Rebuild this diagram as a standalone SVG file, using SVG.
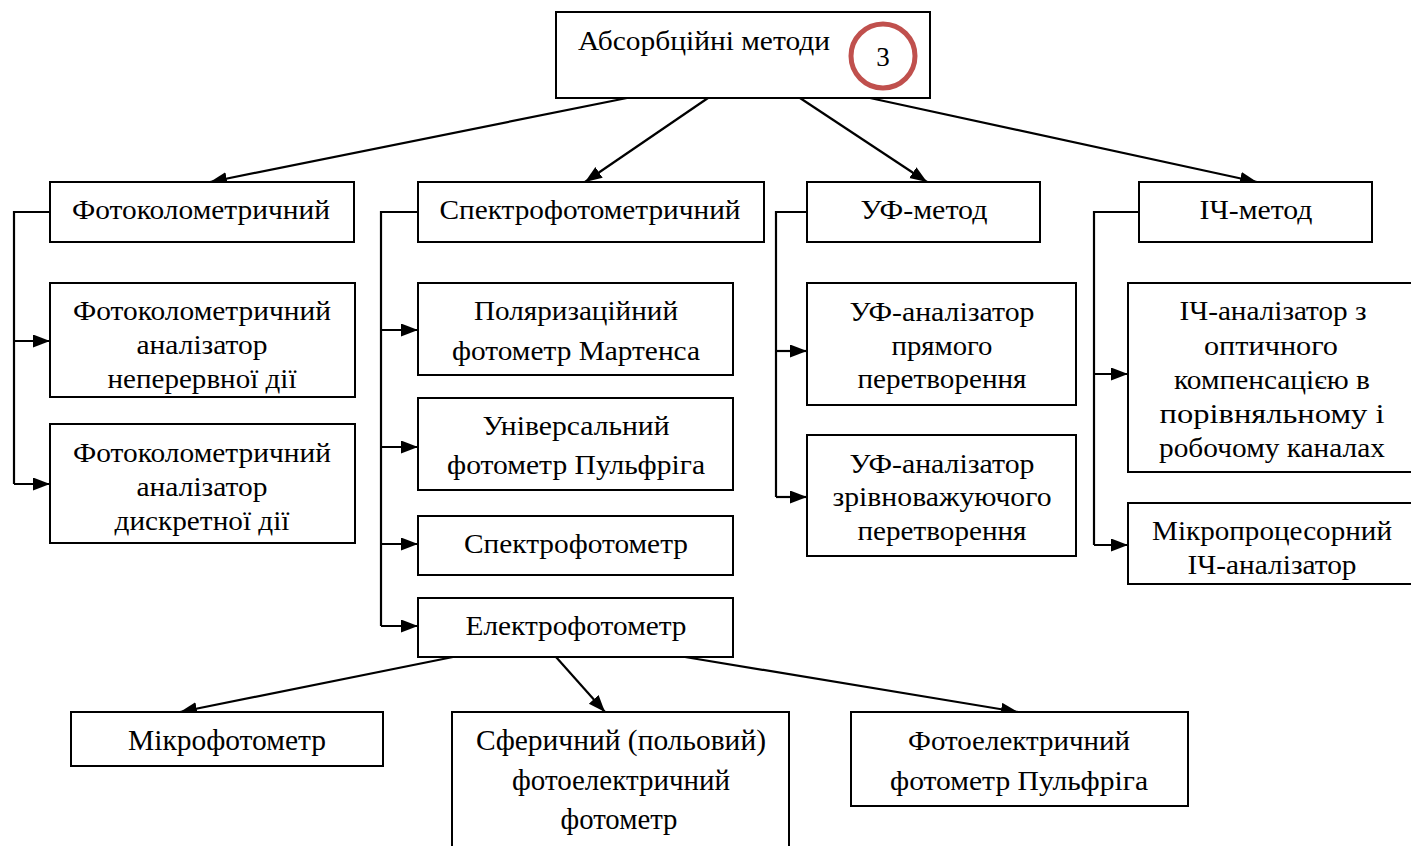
<svg xmlns="http://www.w3.org/2000/svg" width="1411" height="846" viewBox="0 0 1411 846">
<style>
.b{fill:#fff;stroke:#000;stroke-width:2}
.t{font-family:'Liberation Serif','Times New Roman',serif;font-size:27px;fill:#000;text-anchor:middle}
.s{font-size:29px}
.c{fill:none;stroke:#000;stroke-width:2.2}
</style>
<defs>
<marker id="a" markerUnits="userSpaceOnUse" markerWidth="18" markerHeight="14" refX="17" refY="6.5" orient="auto">
<path d="M0,0 L17,6.5 L0,13 z" fill="#000"/>
</marker>
<clipPath id="k1"><rect x="50" y="283" width="305" height="114"/></clipPath>
<clipPath id="k2"><rect x="1128" y="503" width="283" height="81"/></clipPath>
</defs>
<rect width="1411" height="846" fill="#fff"/>
<g id="connectors">
<path class="c" marker-end="url(#a)" d="M627,98 L210,182"/>
<path class="c" marker-end="url(#a)" d="M708,98 L585,182"/>
<path class="c" marker-end="url(#a)" d="M800,98 L927,182"/>
<path class="c" marker-end="url(#a)" d="M870,98 L1257,182"/>
<path class="c" d="M50,212 H14 V484"/>
<path class="c" marker-end="url(#a)" d="M14,341 H50"/>
<path class="c" marker-end="url(#a)" d="M14,484 H50"/>
<path class="c" d="M418,212 H381 V626"/>
<path class="c" marker-end="url(#a)" d="M381,330 H418"/>
<path class="c" marker-end="url(#a)" d="M381,447 H418"/>
<path class="c" marker-end="url(#a)" d="M381,544 H418"/>
<path class="c" marker-end="url(#a)" d="M381,626 H418"/>
<path class="c" d="M807,212 H776 V497"/>
<path class="c" marker-end="url(#a)" d="M776,351 H807"/>
<path class="c" marker-end="url(#a)" d="M776,497 H807"/>
<path class="c" d="M1139,212 H1094 V545"/>
<path class="c" marker-end="url(#a)" d="M1094,374 H1128"/>
<path class="c" marker-end="url(#a)" d="M1094,545 H1128"/>
<path class="c" marker-end="url(#a)" d="M453,657 L180,712"/>
<path class="c" marker-end="url(#a)" d="M556,657 L605,712"/>
<path class="c" marker-end="url(#a)" d="M685,657 L1018,712"/>
</g>
<g id="root">
<rect class="b" x="556" y="12" width="374" height="86"/>
<text class="t" x="704" y="50" textLength="252" lengthAdjust="spacingAndGlyphs">Абсорбційні методи</text>
<circle cx="883" cy="56" r="32" fill="none" stroke="#C0504D" stroke-width="5"/>
<text class="t" x="883" y="66">3</text>
</g>
<g id="n-foto">
<rect class="b" x="50" y="182" width="304" height="60"/>
<text class="t" x="201" y="219" textLength="258" lengthAdjust="spacingAndGlyphs">Фотоколометричний</text>
</g>
<g id="n-spectro">
<rect class="b" x="418" y="182" width="346" height="60"/>
<text class="t" x="590" y="219" textLength="301" lengthAdjust="spacingAndGlyphs">Спектрофотометричний</text>
</g>
<g id="n-uf">
<rect class="b" x="807" y="182" width="233" height="60"/>
<text class="t" x="924" y="219" textLength="127" lengthAdjust="spacingAndGlyphs">УФ-метод</text>
</g>
<g id="n-ir">
<rect class="b" x="1139" y="182" width="233" height="60"/>
<text class="t" x="1256" y="219" textLength="113" lengthAdjust="spacingAndGlyphs">ІЧ-метод</text>
</g>
<g id="n-foto1">
<rect class="b" x="50" y="283" width="305" height="114"/>
<g clip-path="url(#k1)">
<text class="t" x="202" y="320" textLength="258" lengthAdjust="spacingAndGlyphs">Фотоколометричний</text>
<text class="t" x="202" y="354" textLength="131" lengthAdjust="spacingAndGlyphs">аналізатор</text>
<text class="t" x="202" y="388" textLength="189" lengthAdjust="spacingAndGlyphs">неперервної дії</text>
</g>
</g>
<g id="n-foto2">
<rect class="b" x="50" y="424" width="305" height="119"/>
<text class="t" x="202" y="462" textLength="258" lengthAdjust="spacingAndGlyphs">Фотоколометричний</text>
<text class="t" x="202" y="496" textLength="131" lengthAdjust="spacingAndGlyphs">аналізатор</text>
<text class="t" x="202" y="530" textLength="175" lengthAdjust="spacingAndGlyphs">дискретної дії</text>
</g>
<g id="n-pol">
<rect class="b" x="418" y="283" width="315" height="92"/>
<text class="t" x="576" y="320" textLength="204" lengthAdjust="spacingAndGlyphs">Поляризаційний</text>
<text class="t" x="576" y="360" textLength="248" lengthAdjust="spacingAndGlyphs">фотометр Мартенса</text>
</g>
<g id="n-univ">
<rect class="b" x="418" y="398" width="315" height="92"/>
<text class="t" x="576" y="435" textLength="187" lengthAdjust="spacingAndGlyphs">Універсальний</text>
<text class="t" x="576" y="474" textLength="258" lengthAdjust="spacingAndGlyphs">фотометр Пульфріга</text>
</g>
<g id="n-sf">
<rect class="b" x="418" y="516" width="315" height="59"/>
<text class="t" x="576" y="553" textLength="224" lengthAdjust="spacingAndGlyphs">Спектрофотометр</text>
</g>
<g id="n-ef">
<rect class="b" x="418" y="598" width="315" height="59"/>
<text class="t" x="576" y="635" textLength="221" lengthAdjust="spacingAndGlyphs">Електрофотометр</text>
</g>
<g id="n-uf1">
<rect class="b" x="807" y="283" width="269" height="122"/>
<text class="t" x="942" y="321" textLength="185" lengthAdjust="spacingAndGlyphs">УФ-аналізатор</text>
<text class="t" x="942" y="355" textLength="101" lengthAdjust="spacingAndGlyphs">прямого</text>
<text class="t" x="942" y="388" textLength="169" lengthAdjust="spacingAndGlyphs">перетворення</text>
</g>
<g id="n-uf2">
<rect class="b" x="807" y="435" width="269" height="121"/>
<text class="t" x="942" y="473" textLength="185" lengthAdjust="spacingAndGlyphs">УФ-аналізатор</text>
<text class="t" x="942" y="506" textLength="219" lengthAdjust="spacingAndGlyphs">зрівноважуючого</text>
<text class="t" x="942" y="540" textLength="169" lengthAdjust="spacingAndGlyphs">перетворення</text>
</g>
<g id="n-ir1">
<rect class="b" x="1128" y="283" width="290" height="189"/>
<text class="t" x="1273" y="320" textLength="187" lengthAdjust="spacingAndGlyphs">ІЧ-аналізатор з</text>
<text class="t" x="1271" y="355" textLength="134" lengthAdjust="spacingAndGlyphs">оптичного</text>
<text class="t" x="1272" y="389" textLength="196" lengthAdjust="spacingAndGlyphs">компенсацією в</text>
<text class="t" x="1272" y="423" textLength="225" lengthAdjust="spacingAndGlyphs">порівняльному і</text>
<text class="t" x="1272" y="457" textLength="226" lengthAdjust="spacingAndGlyphs">робочому каналах</text>
</g>
<g id="n-ir2">
<rect class="b" x="1128" y="503" width="290" height="81"/>
<g clip-path="url(#k2)">
<text class="t" x="1272" y="540" textLength="240" lengthAdjust="spacingAndGlyphs">Мікропроцесорний</text>
<text class="t" x="1272" y="574" textLength="169" lengthAdjust="spacingAndGlyphs">ІЧ-аналізатор</text>
</g>
</g>
<g id="n-micro">
<rect class="b" x="71" y="712" width="312" height="54"/>
<text class="t s" x="227" y="750" textLength="198" lengthAdjust="spacingAndGlyphs">Мікрофотометр</text>
</g>
<g id="n-sfer">
<rect class="b" x="452" y="712" width="337" height="140"/>
<text class="t s" x="621" y="750" textLength="290" lengthAdjust="spacingAndGlyphs">Сферичний (польовий)</text>
<text class="t s" x="621" y="790" textLength="218" lengthAdjust="spacingAndGlyphs">фотоелектричний</text>
<text class="t s" x="619" y="829" textLength="117" lengthAdjust="spacingAndGlyphs">фотометр</text>
</g>
<g id="n-fep">
<rect class="b" x="851" y="712" width="337" height="94"/>
<text class="t" x="1019" y="750" textLength="222" lengthAdjust="spacingAndGlyphs">Фотоелектричний</text>
<text class="t" x="1019" y="790" textLength="258" lengthAdjust="spacingAndGlyphs">фотометр Пульфріга</text>
</g>
</svg>
